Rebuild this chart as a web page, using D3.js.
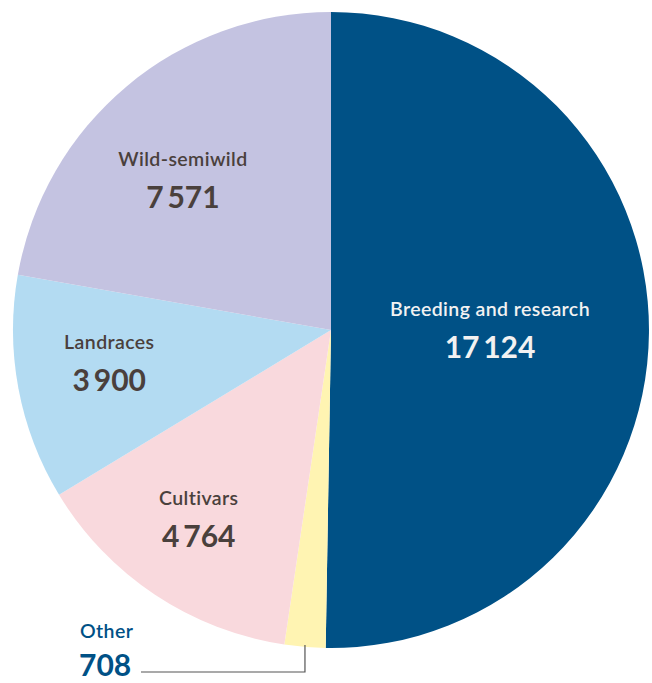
<!DOCTYPE html>
<html>
<head>
<meta charset="utf-8">
<script src="https://cdn.jsdelivr.net/npm/d3@7"></script>
<style>
  body { margin: 0; background: #fff; }
  text { font-family: Lato, "Open Sans", sans-serif; }
</style>
</head>
<body>
<div id="chart"></div>
<script>
// Slices, clockwise from 12 o'clock
const categories = ["Breeding and research", "Other", "Cultivars", "Landraces", "Wild-semiwild"];
const values = [17124, 708, 4764, 3900, 7571];
const colors = ["#005186", "#fff4b2", "#f9d9dd", "#b3dbf2", "#c4c3e1"];
const textColors = ["#f2f2f2", "#005186", "#4a403c", "#4a403c", "#4a403c"];

const width = 652, height = 683;
const cx = 331, cy = 330, radius = 318;

const svg = d3.select("#chart").append("svg")
    .attr("width", width)
    .attr("height", height);

const g = svg.append("g").attr("transform", `translate(${cx}, ${cy})`);

const data = categories.map((c, i) => ({name: c, value: values[i], i}));
const pie = d3.pie().value(d => d.value).sort(null);
const arcs = pie(data);

const arc = d3.arc().innerRadius(0).outerRadius(radius);

g.selectAll("path")
    .data(arcs)
    .enter()
    .append("path")
    .attr("d", arc)
    .attr("fill", d => colors[d.data.i]);

const fmt = v => d3.format(",")(v).replace(",", "\u2009");

// where the inside labels sit: radius as share of pie radius, angle in degrees
const labelPlace = {
    "Breeding and research": [0.5, 90],
    "Cultivars": [0.725, 215],
    "Landraces": [0.705, 261.5],
    "Wild-semiwild": [0.663, 315.4]
};

arcs.filter(d => labelPlace[d.data.name]).forEach(d => {
    const [f, deg] = labelPlace[d.data.name];
    const a = deg * Math.PI / 180, r = radius * f;
    const x = Math.sin(a) * r, y = -Math.cos(a) * r;
    const t = g.append("g").attr("transform", `translate(${x}, ${y})`)
        .attr("fill", textColors[d.data.i])
        .attr("text-anchor", "middle");
    t.append("text")
        .attr("y", -14)
        .attr("font-size", 19.5)
        .attr("font-weight", 600)
        .attr("letter-spacing", 0.4)
        .text(d.data.name);
    t.append("text")
        .attr("y", 28)
        .attr("font-size", 30)
        .attr("font-weight", 700)
        .text(fmt(d.data.value));
});

// "Other" label outside with leader line
const other = arcs.find(d => d.data.name === "Other");
const oa = (other.startAngle + other.endAngle) / 2;
const ex = Math.sin(oa) * radius, ey = -Math.cos(oa) * radius;
g.append("polyline")
    .attr("points", [[ex, ey - 2], [ex, 672 - cy], [141 - cx, 672 - cy]].map(p => p.join(",")).join(" "))
    .attr("fill", "none")
    .attr("stroke", "#555")
    .attr("stroke-width", 1.2);
svg.append("text")
    .attr("x", 80).attr("y", 638)
    .attr("font-size", 19.5).attr("font-weight", 600)
    .attr("letter-spacing", 0.4)
    .attr("fill", textColors[1])
    .text(other.data.name);
svg.append("text")
    .attr("x", 79).attr("y", 676)
    .attr("font-size", 30).attr("font-weight", 700)
    .attr("fill", textColors[1])
    .text(fmt(other.data.value));
</script>
</body>
</html>
